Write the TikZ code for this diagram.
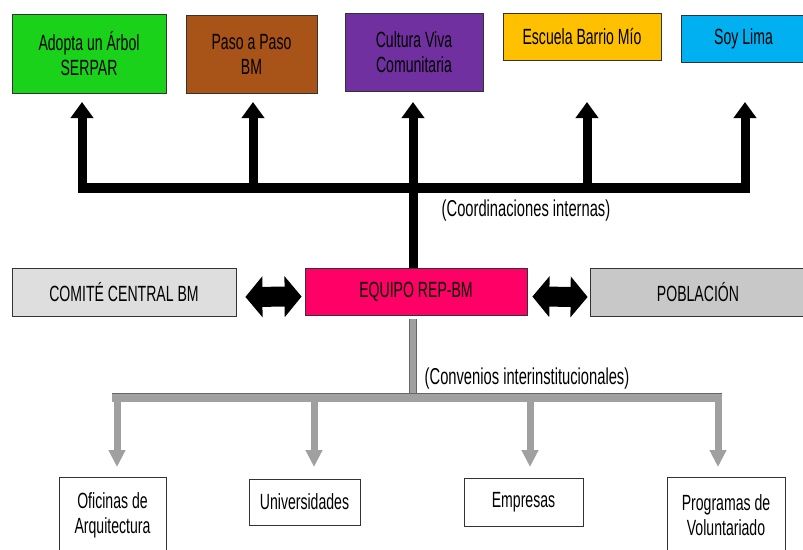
\documentclass[tikz,border=0pt]{standalone}
\usepackage{fontspec}
\setmainfont{Liberation Sans}[FakeStretch=0.64]
\usetikzlibrary{arrows.meta}
\definecolor{verde}{RGB}{25,210,25}
\definecolor{marron}{RGB}{168,84,24}
\definecolor{morado}{RGB}{112,48,160}
\definecolor{amarillo}{RGB}{255,192,0}
\definecolor{celeste}{RGB}{0,176,240}
\definecolor{fucsia}{RGB}{255,0,102}
\definecolor{claro}{RGB}{222,222,222}
\definecolor{medio}{RGB}{200,200,200}
\definecolor{gris}{RGB}{160,160,160}
\begin{document}
\begin{tikzpicture}[x=1pt,y=-1pt,
box/.style={draw=black!80,line width=0.8pt,align=center,inner sep=0pt,font=\fontsize{22}{25}\selectfont},
note/.style={font=\fontsize{23}{25}\selectfont},
coord/.style={-{Triangle[length=16pt,width=22pt]},line width=9pt},
link/.style={{Triangle[length=17pt,width=40pt]}-{Triangle[length=17pt,width=40pt]},line width=20pt},
conv/.style={-{Triangle[length=17pt,width=16pt]},line width=7pt,draw=gris},
]
\useasboundingbox(0,0)rectangle(803,549);
\clip(0,0)rectangle(803,549);

%programas
\node[box,fill=verde,minimum width=154,minimum height=79](adopta)at(89,53.5){Adopta un Árbol\\SERPAR};
\node[box,fill=marron,minimum width=131,minimum height=78](paso)at(251.5,54){Paso a Paso\\BM};
\node[box,fill=morado,minimum width=138,minimum height=78](cultura)at(414,52){Cultura Viva\\Comunitaria};
\node[box,fill=amarillo,minimum width=158,minimum height=47](escuela)at(582,36.5){Escuela Barrio Mío};
\node[box,fill=celeste,minimum width=125,minimum height=47](soylima)at(743.5,38.5){Soy Lima};

%actores
\node[box,fill=claro,minimum width=224,minimum height=48](comite)at(124,292){COMITÉ CENTRAL BM};
\node[box,fill=fucsia,minimum width=222,minimum height=47](equipo)at(416,291.5){EQUIPO REP-BM};
\node[box,fill=medio,minimum width=216,minimum height=48](poblacion)at(698,292){POBLACIÓN};

%convenios
\node[box,minimum width=107,minimum height=76](oficinas)at(112.5,515){Oficinas de\\Arquitectura};
\node[box,minimum width=111,minimum height=46](univ)at(304.5,502){Universidades};
\node[box,minimum width=119,minimum height=48](empresas)at(523.5,502){Empresas};
\node[box,minimum width=118,minimum height=76](voluntariado)at(726,515){Programas de\\Voluntariado};

%coordinaciones internas
\coordinate(hub)at(413,188);
\coordinate(tip)at(0,102);
\coordinate(c1)at(82,193);
\coordinate(c2)at(253,193);
\coordinate(c3)at(413,193);
\coordinate(c4)at(587,193);
\coordinate(c5)at(745,193);
\draw[line width=10pt](77.5,188)--(749.5,188);
\foreach \c in {c1,c2,c3,c4,c5}
  \draw[coord](\c)--(\c|-tip);
\draw[line width=9pt](hub)--(hub|-equipo.north);
\node[note](coordlabel)at(526,211){(Coordinaciones internas)};

%relaciones
\draw[link,shorten <=9pt,shorten >=3pt]([yshift=-5pt]comite.east)--([yshift=-5pt]equipo.west);
\draw[link,shorten <=5pt,shorten >=2pt]([yshift=-5pt]equipo.east)--([yshift=-5pt]poblacion.west);

%convenios interinstitucionales
\coordinate(hub2)at(413,397.5);
\draw[draw=gris,line width=6pt,preaction={draw=black!60,line width=7.5pt},shorten <=4pt](hub2|-equipo.south)--(hub2);
\draw[draw=gris,line width=8pt,preaction={draw=black!60,line width=9.5pt}](112,397.5)--(722,397.5);
\node[note](convlabel)at(527,379){(Convenios interinstitucionales)};
\foreach \x/\n in {117/d1,314/d2,530/d3,718/d4}{
  \coordinate(\n)at(\x,402);
  \draw[conv](\n)--(\x,467);
}

\end{tikzpicture}
\end{document}
